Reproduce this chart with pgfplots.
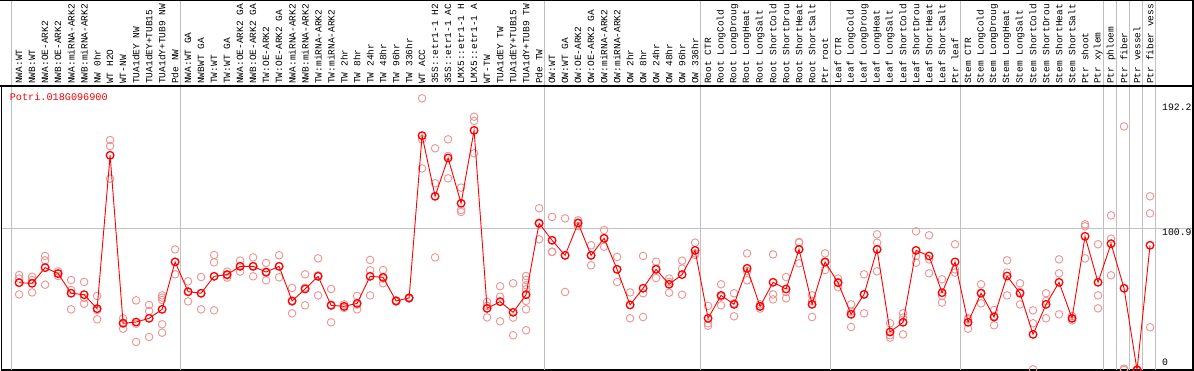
\documentclass[border=0pt]{standalone}
\usepackage{pgfplots}
\pgfplotsset{compat=1.18}
\usepackage{pgfplotstable}
\usepackage{fontspec}
\newfontfamily\mono{Liberation Mono}
\definecolor{rep}{RGB}{238,146,146}
\definecolor{gridg}{RGB}{192,192,192}

\pgfplotstableread{
x y
0 62.7
1 62.3
2 73.3
3 69.1
4 55.3
5 54.3
6 44.5
7 152.2
8 34.2
9 35.1
10 37.7
11 44.0
12 77.3
13 56.4
14 55.3
15 67.2
16 68.4
17 74.2
18 74.2
19 70.2
20 74.2
21 49.9
22 58.3
23 67.2
24 46.8
25 46.1
26 48.2
27 67.2
28 66.5
29 49.9
30 52.0
31 166.0
32 123.4
33 150.3
34 118.5
35 169.7
36 44.7
37 49.4
38 41.9
39 54.3
40 104.4
41 92.5
42 81.9
43 104.6
44 81.9
45 93.9
46 72.1
47 47.1
48 58.8
49 72.1
50 61.6
51 68.4
52 85.4
53 37.7
54 53.8
55 47.5
56 72.8
57 46.1
58 63.0
59 58.3
60 86.1
61 47.5
62 77.3
63 62.7
64 40.5
65 54.5
66 86.1
67 28.1
68 34.9
69 85.4
70 81.5
71 55.7
72 77.3
73 34.9
74 55.3
75 38.6
76 67.4
77 55.3
78 26.4
79 47.5
80 63.0
81 37.7
82 95.3
83 63.0
84 90.1
85 58.8
86 1.4
87 89.0
}\means

\pgfplotstableread{
x y
0 68.1
0 65.6
0 54.5
1 66.9
1 64.6
1 55.9
2 81.5
2 78.4
2 61.3
3 70.7
3 69.1
3 67.4
4 64.6
4 57.6
4 44.0
5 63.2
5 52.0
5 48.0
6 53.4
6 43.5
6 37.0
7 162.9
7 158.7
7 135.8
8 37.7
8 34.7
8 30.4
9 50.3
9 33.9
9 21.1
10 47.1
10 42.8
10 24.6
11 53.8
11 52.2
11 50.6
11 33.5
11 27.6
12 86.1
12 77.3
12 68.6
13 63.7
13 56.2
13 49.6
14 66.7
14 55.3
14 44.0
15 82.2
15 77.0
15 43.3
16 70.5
16 67.9
16 66.3
17 78.2
17 74.4
17 70.5
18 80.5
18 74.4
18 67.2
19 76.6
19 69.8
19 64.4
20 82.0
20 74.2
20 66.5
21 59.0
21 49.4
21 41.2
22 68.6
22 59.2
22 46.8
23 79.8
23 67.9
23 53.8
24 58.3
24 47.3
24 34.9
25 47.5
25 45.9
25 45.0
26 53.4
26 47.3
26 44.0
27 78.7
27 71.4
27 53.8
28 71.6
28 65.6
28 62.3
29 50.3
29 49.9
29 49.4
30 52.4
30 52.0
30 51.5
31 192.2
31 163.4
31 143.0
32 157.1
32 132.5
32 80.5
33 163.4
33 151.7
33 136.0
34 129.5
34 113.8
34 112.4
35 179.3
35 176.3
35 153.6
36 49.2
36 46.4
36 38.4
37 60.2
37 52.9
37 35.6
38 62.3
38 38.2
38 25.8
39 67.4
39 64.6
39 60.9
39 58.1
39 49.9
39 44.0
39 29.3
40 115.0
40 104.9
40 93.2
41 108.9
41 84.5
41 84.3
42 107.9
42 81.9
42 56.2
43 106.5
43 104.9
43 102.5
44 89.0
44 81.9
44 74.9
45 99.7
45 93.9
45 88.0
46 80.8
46 72.1
46 63.2
47 55.9
47 47.1
47 37.7
48 81.5
48 55.3
48 38.6
49 77.5
49 72.6
49 66.0
50 65.6
50 63.2
50 55.7
51 78.2
51 72.6
51 54.3
52 90.8
52 83.3
52 82.2
53 46.4
53 34.2
53 32.5
54 61.6
54 52.9
54 46.8
55 55.3
55 48.2
55 39.1
56 83.3
56 70.9
56 64.4
57 47.5
57 45.9
57 44.5
58 82.6
58 54.5
58 51.0
59 66.7
59 56.2
59 51.7
60 91.3
60 90.8
60 76.3
61 53.8
61 49.9
61 38.6
62 83.3
62 76.8
62 71.6
63 65.6
63 63.2
63 59.5
64 47.5
64 42.4
64 31.6
65 68.6
65 54.5
65 41.2
66 96.7
66 90.8
66 70.7
67 34.2
67 25.8
67 24.1
68 41.2
68 38.2
68 26.4
69 98.8
69 81.5
69 76.8
70 96.0
70 79.1
70 69.3
71 65.1
71 53.4
71 48.7
72 89.7
72 72.1
72 69.8
73 37.7
73 37.0
73 30.4
74 61.6
74 55.7
74 48.2
75 43.5
75 39.3
75 32.8
76 78.4
76 69.8
76 53.8
77 62.3
77 56.2
77 47.5
78 43.3
78 34.2
78 1.9
79 55.3
79 49.9
79 37.7
80 79.1
80 69.3
80 40.5
81 39.3
81 37.7
81 36.3
82 103.7
82 102.3
82 79.8
83 89.7
83 53.8
83 44.7
84 110.0
84 93.6
84 67.9
85 172.5
85 2.3
85 1.4
86 1.9
86 1.4
86 0.9
87 123.4
87 111.4
87 31.4
}\reps

\begin{document}
\begin{tikzpicture}[x=1pt,y=1pt]
\path[use as bounding box] (0,0) rectangle (1194,370);
\clip (0,0) rectangle (1194,370);
\begin{axis}[
  at={(1.7pt,0pt)}, anchor=south west,
  scale only axis, width=1191.3pt, height=284pt,
  xmin=-1.34, xmax=90.3, ymin=1.4, ymax=200.86,
  axis line style={black, line width=1.2pt},
  xtick={0,...,87},
  xticklabels={NWA:WT,NWB:WT,NWA:OE-ARK2,NWB:OE-ARK2,NWA:miRNA-ARK2,NWB:miRNA-ARK2,NW 0hr,WT H2O,WT-NW,TUA1dEY NW,TUA1dEY+TUB15,TUA1dY+TUB9 NW,Pde NW,
    NWA:WT GA,NWBWT GA,TW:WT,TW:WT GA,NWA:OE-ARK2 GA,NWB:OE-ARK2 GA,TW:OE-ARK2,TW:OE-ARK2 GA,NWA:miRNA-ARK2,NWB:miRNA-ARK2,TW:miRNA-ARK2,TW:miRNA-ARK2,TW 2hr,TW 8hr,TW 24hr,TW 48hr,TW 96hr,TW 336hr,WT ACC,35S::etr1-1 H2,35S::etr1-1 AC,LMX5::etr1-1 H,LMX5::etr1-1 A,WT-TW,TUA1dEY TW,TUA1dEY+TUB15,TUA1dY+TUB9 TW,Pde TW,
    OW:WT,OW:WT GA,OW:OE-ARK2,OW:OE-ARK2 GA,OW:miRNA-ARK2,OW:miRNA-ARK2,OW 2hr,OW 8hr,OW 24hr,OW 48hr,OW 96hr,OW 336hr,
    Root CTR,Root LongCold,Root LongDroug,Root LongHeat,Root LongSalt,Root ShortCold,Root ShortDrou,Root ShortHeat,Root ShortSalt,Ptr root,
    Leaf CTR,Leaf LongCold,Leaf LongDroug,Leaf LongHeat,Leaf LongSalt,Leaf ShortCold,Leaf ShortDrou,Leaf ShortHeat,Leaf ShortSalt,Ptr leaf,
    Stem CTR,Stem LongCold,Stem LongDroug,Stem LongHeat,Stem LongSalt,Stem ShortCold,Stem ShortDrou,Stem ShortHeat,Stem ShortSalt,Ptr shoot,Ptr xylem,
    Ptr phloem,Ptr fiber,Ptr vessel,Ptr fiber vess},
  xticklabel pos=upper,
  xticklabel style={yshift=2pt, rotate=90, anchor=west, inner sep=0pt, font={\mono\fontsize{9.5pt}{11pt}\selectfont}},
  major tick length=0pt,
  ytick={100.9}, yticklabels={},
  ymajorgrids, grid style={gridg, line width=1pt},
  clip mode=individual,
]
\pgfplotsinvokeforeach{-0.6,12.4,40.4,52.4,62.4,72.4,83.4,84.4,85.4,86.4,87.4}{
  \draw[gridg, line width=1pt] (axis cs:#1,1.4) -- ++(0pt,370pt);
}
\addplot[only marks, mark=o, mark size=3.8pt, color=rep, mark options={line width=0.9pt}] table {\reps};
\addplot[red, line width=0.9pt, mark=o, mark size=3.8pt, mark options={line width=1.3pt, solid}] table {\means};
\end{axis}
\node[anchor=west, inner sep=0pt, text=red, font={\mono\fontsize{10.2pt}{12pt}\selectfont}] at (9.6,273) {Potri.018G096900};
\node[anchor=west, inner sep=0pt, font={\mono\fontsize{9.8pt}{12pt}\selectfont}] at (1162,262.3) {192.2};
\node[anchor=west, inner sep=0pt, font={\mono\fontsize{9.8pt}{12pt}\selectfont}] at (1162,138) {100.9};
\node[anchor=west, inner sep=0pt, font={\mono\fontsize{9.8pt}{12pt}\selectfont}] at (1162,8) {0};
\draw[line width=1.2pt] (0,369.4) -- (1194,369.4);
\draw[line width=1.2pt] (1193,0) -- (1193,370);
\draw[line width=1.2pt] (0,284) -- (1194,284);
\end{tikzpicture}
\end{document}
